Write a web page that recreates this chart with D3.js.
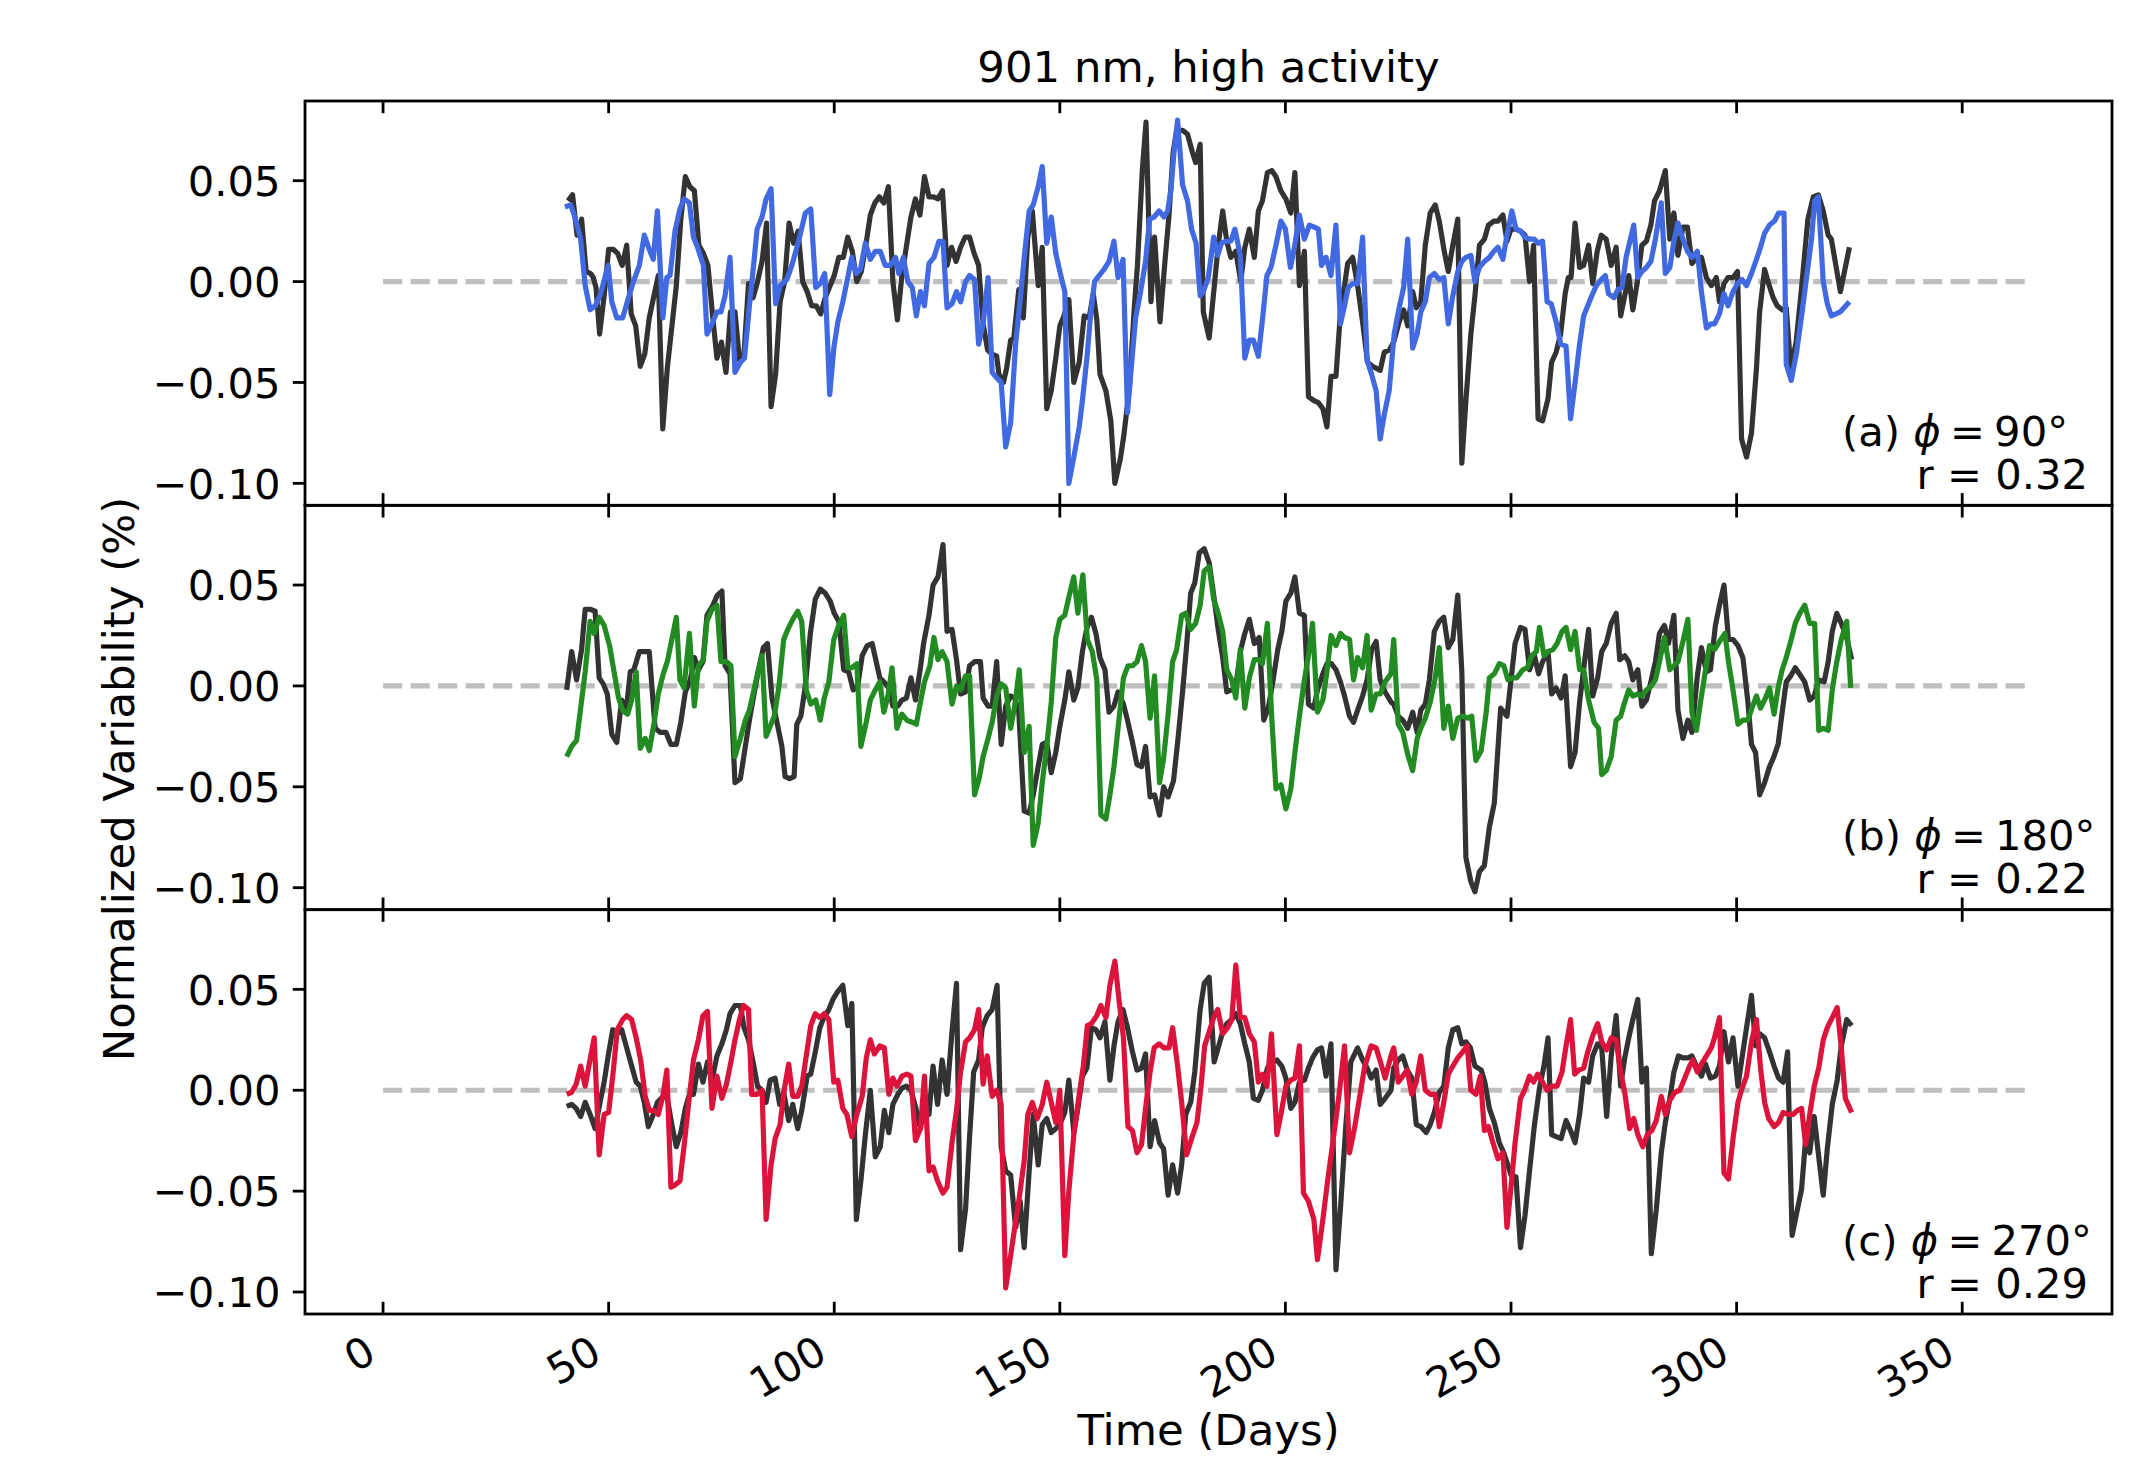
<!DOCTYPE html>
<html>
<head>
<meta charset="utf-8">
<script src="https://cdn.jsdelivr.net/npm/d3@7.9.0/dist/d3.min.js"></script>
<style>
  html, body { margin: 0; padding: 0; background: #fff; }
  svg { display: block; font-family: "DejaVu Sans", sans-serif; }
</style>
</head>
<body>
<div id="chart"></div>
<script>
/* ---------- data ---------- */
const xTicks = [0, 50, 100, 150, 200, 250, 300, 350];
const yTicks = [-0.10, -0.05, 0.00, 0.05];
const panelTags = ['(a)', '(b)', '(c)'];
const phases = ['90°', '180°', '270°'];
const rValues = ['0.32', '0.22', '0.29'];
const modelColors = ['#4169e1', '#228b22', '#dc143c'];
const zeroLine = [0, 365];

// panel (a): reference (black) and phi = 90 (blue)
const refA = [[41,0.040],[42,0.043],[43,0.023],[43.3,0.023],[44,0.031],[45,0.005],[46,0.004],[46.6,0.002],[47.2,-0.003],[48,-0.026],[49,-0.007],[50,0.016],[51,0.016],[52,0.014],[53,0.008],[54,0.018],[55,-0.016],[56,-0.022],[57,-0.042],[58,-0.036],[59,-0.018],[61,0.003],[62,-0.073],[63,-0.043],[65,-0.002],[66,0.031],[67,0.052],[68,0.047],[69,0.045],[70,0.018],[71,0.014],[72,0.008],[73,-0.016],[74,-0.038],[75,-0.030],[76,-0.045],[77,-0.015],[78,-0.015],[79,-0.039],[80,-0.036],[81,-0.001],[82,-0.008],[83,0.000],[84,0.010],[85,0.029],[86,-0.062],[87,-0.046],[88,-0.010],[89,0.000],[90,0.029],[91,0.019],[92,0.025],[93,0.000],[94,-0.005],[95,-0.012],[96,-0.012],[97,-0.016],[98,-0.008],[100,0.003],[101,0.012],[102,0.012],[103,0.022],[104,0.015],[105,0.000],[106,0.005],[107,0.018],[108,0.033],[109,0.039],[110,0.042],[111,0.039],[112,0.047],[113,0.000],[114,-0.019],[115,0.003],[117,0.032],[118,0.041],[119,0.033],[120,0.052],[121,0.042],[122,0.042],[123,0.041],[124,0.045],[125,0.008],[126,0.017],[127,0.010],[128,0.017],[129,0.022],[130,0.022],[131,0.014],[132,0.008],
  [133,-0.021],[134,-0.034],[135,-0.036],[136,-0.037],[136.5,-0.046],[137.5,-0.050],[138.2,-0.043],[139.1,-0.029],[139.8,-0.028],[140.9,-0.004],[141.9,-0.018],[142.9,0.022],[143.9,0.035],[145.2,-0.002],[146.1,0.017],[147.1,-0.063],[148.1,-0.054],[149.1,-0.038],[150,-0.022],[150.9,-0.017],[152,-0.009],[153.1,-0.050],[154.3,-0.040],[155.4,-0.017],[156.5,-0.018],[157.4,-0.006],[158.2,-0.019],[158.9,-0.046],[160.2,-0.054],[161.3,-0.069],[162.2,-0.100],[163.4,-0.088],[164.2,-0.076],[165.4,-0.053],[166.5,-0.013],[167.2,0.008],[168.3,0.056],[169.1,0.079],[170.2,-0.010],[171,0.022],[172.2,-0.020],[173.3,0.010],[174.2,0.033],[175.1,0.064],[175.9,0.075],[177.2,0.075],[178.3,0.073],[179.4,0.064],[180.1,0.059],[181.1,0.068],[181.8,-0.015],[183.1,-0.028],[184.2,-0.003],[185.1,0.018],[186.1,0.035],[187,0.020],[187.9,0.012],[189,0.015],[190.1,0.000],[191,0.017],[192,0.026],[193.1,0.012],[194,0.035],[194.9,0.040],[196,0.054],[197,0.055],[197.9,0.052],[199,0.045],[200.1,0.041],[201.2,0.034],[202.1,0.054],[203.1,-0.002],[204.2,0.015],[205.1,-0.057],[206.3,-0.059],[207.3,-0.060],[208.3,-0.063],[209.2,-0.072],[210.1,-0.047],[211.2,-0.047],[212.3,-0.012],[213.1,-0.002],[213.8,0.009],[214.9,0.012],[216,-0.002],[217.1,-0.020],[218.2,-0.040],[219.3,-0.042],[221,-0.044],[221.9,-0.035],[223,-0.034],
  [224,-0.030],[225.2,-0.020],[226.2,-0.014],[227.1,-0.022],[228.2,-0.005],[229,-0.013],[230,-0.010],[231,0.018],[232.1,0.034],[233.2,0.038],[234.1,0.030],[235.2,0.015],[236.1,0.005],[237.1,0.018],[238.2,0.031],[239.1,-0.090],[240,-0.059],[241.1,-0.026],[242,-0.007],[243,0.018],[244.1,0.021],[245,0.028],[246.2,0.030],[247.1,0.030],[248.2,0.033],[249.1,0.020],[250,0.026],[251.1,0.026],[252.1,0.025],[253.1,0.023],[254.1,0.000],[255,0.018],[256,-0.068],[257,-0.069],[258.2,-0.058],[259,-0.040],[260,-0.035],[261,-0.026],[262,-0.006],[262.7,0.002],[263.3,0.002],[264.2,0.029],[265.2,0.007],[266.1,0.008],[267.2,0.018],[268.1,-0.001],[269.1,0.015],[270,0.023],[271.1,0.021],[272.2,0.008],[273.3,0.017],[274.3,-0.017],[275.2,-0.007],[276.1,0.003],[277,-0.014],[278,0.000],[279,0.018],[280,0.020],[281,0.028],[281.8,0.040],[282.9,0.045],[284.2,0.055],[285.2,0.021],[286.1,0.034],[287,0.013],[288.1,0.027],[289.1,0.027],[290.1,0.009],[291.3,0.012],[292.2,0.012],[293.3,0.002],[294.4,-0.002],[295.5,0.002],[296.2,-0.010],[297.2,-0.001],[298.1,0.002],[299.2,0.002],[300.2,0.005],[301.1,-0.078],[302.2,-0.087],[303.3,-0.075],[304.4,-0.043],[305.1,-0.015],[306.2,0.006],[307.1,-0.001],[308.1,-0.008],[309,-0.012],[310.1,-0.014],[311,-0.013],[312,-0.043],[313.2,-0.030],[314.4,-0.003],[315.8,0.031],[317,0.042],[318.1,0.043],[319.2,0.035],[320.3,0.023],[321,0.021],[323,-0.005],[325,0.017]];
const phiA = [[40.3,0.037],[41.6,0.038],[42.5,0.032],[43.8,0.021],[44.8,-0.002],[45.9,-0.014],[47,-0.012],[48.1,-0.007],[49.9,0.008],[50.7,-0.010],[51.8,-0.018],[53.1,-0.018],[54.4,-0.008],[55.5,0.000],[56.8,0.008],[57.9,0.023],[59,0.016],[59.9,0.011],[60.8,0.035],[62,-0.018],[62.9,0.002],[63.6,0.003],[64.7,0.025],[65.8,0.036],[66.7,0.041],[67.9,0.039],[68.8,0.022],[69.7,0.017],[71,0.008],[71.8,-0.026],[72.9,-0.021],[74,-0.015],[74.9,-0.015],[75.8,-0.007],[76.9,0.012],[78,-0.045],[79.2,-0.040],[80.1,-0.038],[81.2,-0.012],[82.3,0.012],[82.9,0.026],[84,0.032],[84.9,0.041],[86,0.046],[87,-0.011],[88,-0.002],[89.5,0.001],[90.6,0.008],[92.1,0.020],[93.6,0.034],[94.8,0.036],[95.9,-0.003],[96.9,-0.001],[97.9,0.004],[99,-0.056],[99.9,-0.033],[100.8,-0.020],[101.9,-0.010],[103,0.002],[103.9,0.012],[104.9,0.004],[105.8,0.006],[106.9,0.019],[108,0.011],[109.1,0.015],[110.2,0.015],[111.3,0.008],[112.4,0.008],[113.6,0.012],[114.3,0.004],[115.3,0.012],[116.3,0.000],[117.3,-0.003],[118.2,-0.017],[119.1,-0.005],[120,-0.012],[121,0.009],[122.1,0.012],[123.2,0.020],[124.1,0.020],[125,-0.013],[126.1,-0.011],[127.1,-0.005],[128,-0.010],[129.1,0.000],[130,0.003],[131.1,0.001],[132,-0.031],
  [133,-0.021],[134.1,0.002],[135,-0.045],[136.1,-0.048],[137,-0.050],[138,-0.082],[139.1,-0.070],[140.2,-0.031],[141.3,-0.007],[142.2,0.014],[143.2,0.035],[144.1,0.038],[145.2,0.047],[146.1,0.057],[147.1,0.019],[148.1,0.032],[149.1,0.014],[150,0.005],[151.1,-0.005],[152,-0.100],[153.1,-0.087],[154.3,-0.072],[155,-0.059],[156,-0.038],[156.8,-0.017],[157.7,0.000],[158.7,0.003],[159.8,0.006],[160.9,0.010],[162,0.020],[162.9,0.002],[164,0.011],[165,-0.065],[165.9,-0.041],[166.8,-0.018],[167.9,-0.005],[169,0.010],[169.9,0.031],[170.9,0.032],[172,0.035],[173.1,0.032],[173.9,0.035],[174.6,0.045],[175.3,0.064],[176.1,0.080],[177.2,0.048],[178.3,0.040],[179.2,0.026],[180.2,0.019],[181.1,-0.007],[181.8,-0.005],[182.9,0.002],[184.1,0.022],[185,0.013],[185.8,0.019],[186.8,0.020],[187.9,0.020],[188.8,0.026],[190,0.013],[191,-0.038],[192,-0.029],[192.9,-0.029],[194,-0.037],[194.9,-0.019],[195.9,0.003],[196.8,0.007],[197.9,0.018],[199,0.030],[200,0.026],[201.1,0.007],[202,0.017],[203.1,0.033],[204.2,0.021],[205.3,0.028],[206.4,0.027],[207.3,0.026],[208,0.008],[209,0.012],[210.1,0.003],[211.2,0.028],[212.2,-0.021],[213.1,-0.012],[213.9,-0.003],[214.9,-0.001],[216,-0.001],[217.1,0.022],[218.1,-0.039],[219.1,-0.046],[220.1,-0.054],[221,-0.078],[221.9,-0.066],[223,-0.054],
  [224.1,-0.026],[225.2,-0.013],[226.2,-0.003],[227.1,0.021],[228.2,-0.033],[229.2,-0.026],[230,-0.015],[231,-0.010],[231.9,0.002],[233,0.004],[234.1,0.001],[235.1,0.002],[236.1,-0.021],[237.1,-0.007],[238.2,0.005],[239.1,0.010],[240,0.012],[241.1,0.013],[242,0.000],[243,0.007],[244.1,0.010],[245.2,0.012],[246.2,0.015],[247.1,0.017],[248.2,0.011],[249.1,0.023],[250.2,0.035],[251.1,0.026],[252.1,0.025],[253.1,0.022],[254.1,0.021],[255.2,0.021],[256,0.019],[257,0.020],[258,-0.010],[258.9,-0.011],[260,-0.020],[261,-0.031],[262.2,-0.032],[263.2,-0.068],[264.2,-0.050],[265.2,-0.031],[266.1,-0.017],[267,-0.012],[267.9,-0.007],[268.9,-0.002],[270,0.001],[270.9,0.003],[271.6,-0.006],[272.8,-0.008],[273.7,-0.004],[274.6,-0.003],[275.5,0.012],[277.2,0.028],[278.1,0.002],[279,0.005],[280,0.007],[281,0.010],[282,0.021],[283.3,0.039],[284.2,0.004],[285.2,0.007],[286.1,0.020],[287,0.029],[288.1,0.021],[289.1,0.015],[290.1,0.012],[291.3,0.015],[292.2,-0.005],[293.3,-0.023],[294.3,-0.021],[295.1,-0.021],[296.2,-0.016],[297.2,-0.006],[298.1,-0.012],[299.2,-0.005],[300.2,-0.001],[301.2,0.001],[302.2,-0.002],[303.3,0.004],[304.4,0.011],[305.3,0.017],[306.2,0.024],[307.3,0.028],[308.4,0.030],[309.3,0.034],[310.5,0.034],[311,-0.041],[312.1,-0.049],[313.3,-0.035],[314.4,-0.017],[315.5,0.002],[316.6,0.021],[317.3,0.040],[318.1,0.042],[319.2,0.000],[320.1,-0.011],[321,-0.017],[323,-0.015],[325,-0.010]];

// panel (b): reference (black) and phi = 180 (green)
const refB = [[40.7,-0.002],[41.8,0.017],[42.9,0.003],[44,0.018],[44.8,0.038],[45.9,0.038],[47,0.037],[47.9,0.004],[48.8,0.001],[49.7,-0.004],[50.7,-0.024],[51.8,-0.028],[52.9,-0.007],[53.9,-0.012],[54.8,0.007],[55.6,0.008],[56.8,0.017],[58.1,0.017],[59,0.017],[60.3,-0.021],[61.4,-0.023],[62.7,-0.023],[63.8,-0.029],[65,-0.029],[66,-0.018],[67,-0.003],[68.1,0.003],[69,0.014],[69.9,0.008],[70.9,0.012],[71.8,0.035],[73.1,0.040],[74.1,0.045],[75.1,0.047],[75.8,0.010],[76.9,0.006],[78,-0.048],[79.2,-0.046],[80.3,-0.030],[81.2,-0.017],[82.3,-0.003],[83.4,0.010],[84.3,0.019],[85.2,0.021],[86.2,-0.006],[87.3,-0.018],[88.4,-0.030],[89.1,-0.045],[90.1,-0.046],[91.1,-0.045],[91.7,-0.019],[92.6,-0.015],[93.6,0.000],[94.7,0.026],[95.8,0.043],[96.9,0.048],[98,0.046],[99.1,0.042],[100,0.036],[101,0.032],[102.1,0.008],[103.2,0.007],[104.2,-0.002],[105.2,0.000],[106.2,0.015],[107.3,0.020],[108.4,0.021],[109.3,0.012],[110.1,0.004],[111,0.002],[112.1,-0.001],[113,-0.010],[114.1,-0.010],[115,-0.007],[116,-0.006],[117,0.004],[118,-0.007],[119.1,0.009],[119.8,0.021],[121,0.035],[121.9,0.050],[123,0.054],[124.1,0.070],[125,0.027],[126.1,0.028],[127.1,0.013],[128,-0.004],[129.1,-0.003],[130,0.010],[131.1,0.012],[132.4,0.012],
  [133,-0.006],[134.1,-0.010],[135,-0.010],[136,0.012],[137,-0.029],[138,-0.010],[139.1,-0.005],[140,-0.006],[140.9,-0.013],[142.1,-0.062],[143.2,-0.063],[144.1,-0.054],[145.2,-0.040],[146.1,-0.029],[147.1,-0.028],[148.1,-0.043],[149.1,-0.033],[150,-0.020],[151.1,-0.007],[152,0.007],[153.1,-0.007],[154,-0.001],[155,0.017],[156,0.029],[157,0.034],[158,0.026],[158.9,0.014],[160,0.008],[160.9,-0.013],[162,-0.010],[162.9,-0.003],[164.1,-0.009],[165.1,-0.018],[166.1,-0.028],[167.1,-0.039],[168.1,-0.040],[169,-0.030],[170,-0.055],[171,-0.054],[172.1,-0.064],[173,-0.050],[174,-0.055],[175.2,-0.047],[176.2,-0.026],[177.2,-0.003],[178.1,0.020],[179,0.046],[179.9,0.051],[180.9,0.066],[182,0.068],[183.1,0.061],[184.1,0.045],[185.1,0.028],[186.1,0.014],[187,-0.003],[188.1,-0.002],[189,0.000],[190.1,0.018],[191,0.026],[192,0.033],[193.1,0.021],[194.2,0.024],[195.2,-0.017],[196.2,-0.011],[197.2,0.002],[198.3,0.018],[199.2,0.027],[200.1,0.042],[201.2,0.046],[202.1,0.054],[203.1,0.036],[204.2,0.035],[205.1,-0.009],[206.3,-0.011],[207.1,-0.002],[208.3,0.006],[209.2,0.011],[210.2,0.011],[211.2,0.008],[212.2,0.002],[213.1,-0.005],[214.2,-0.015],[215.1,-0.018],[216,-0.012],[217.1,-0.005],[218.1,0.003],[219.1,0.018],[220.1,0.022],[221,0.003],[222.1,-0.003],[223.4,-0.008],
  [224,-0.009],[225,-0.015],[226,-0.017],[227.1,-0.021],[228.2,-0.013],[229.2,-0.023],[230,-0.012],[231,-0.009],[231.9,0.003],[233,0.027],[234.1,0.032],[235.1,0.034],[236.1,0.019],[237.1,0.023],[238.2,0.045],[239.1,0.007],[240,-0.085],[241.1,-0.097],[242,-0.102],[243,-0.092],[244.1,-0.089],[245.2,-0.070],[246.3,-0.058],[247.7,-0.011],[249.1,-0.015],[250,0.003],[250.9,0.021],[252.1,0.029],[253.1,0.028],[254.1,0.008],[255.2,0.015],[256.1,0.006],[257,0.012],[258.2,0.017],[259,-0.004],[260,-0.001],[261.1,-0.006],[262,0.005],[263.2,-0.040],[264.2,-0.033],[265.2,-0.008],[266.3,0.012],[267.2,0.028],[268.1,-0.005],[269.2,0.004],[270.1,0.017],[271.1,0.021],[272.2,0.031],[273.3,0.036],[274.1,0.013],[275.2,0.015],[276.1,0.012],[277,0.003],[278.1,0.008],[279,-0.010],[280,-0.007],[281.1,0.003],[282,0.012],[282.9,0.026],[284,0.030],[284.9,0.021],[286.1,0.035],[287,-0.012],[288.1,-0.026],[289.2,-0.017],[290.1,-0.023],[291.3,0.005],[292.2,0.019],[293.3,0.007],[294.2,0.008],[295.3,0.030],[296.2,0.040],[297.2,0.050],[298.2,0.023],[299.2,0.023],[300.3,0.020],[301.4,0.014],[302.5,-0.008],[303.3,-0.029],[304.2,-0.033],[305.1,-0.054],[306.2,-0.048],[307.3,-0.040],[308.1,-0.036],[309.2,-0.029],[310.1,-0.013],[311,0.002],[312,0.005],[313,0.009],[314.2,0.005],[315.1,0.002],[316.2,-0.007],[317.2,-0.005],[318.2,0.003],[319.4,0.002],[320.3,0.012],[321.2,0.027],[322.2,0.036],[323.2,0.031],[324.4,0.024],[325.5,0.013]];
const phiB = [[40.7,-0.035],[41.8,-0.030],[42.9,-0.027],[43.8,-0.011],[44.8,0.007],[45.9,0.032],[46.8,0.026],[47.9,0.034],[49,0.030],[50.2,0.020],[51.2,0.007],[52.2,-0.006],[53.1,-0.012],[54.2,-0.014],[55.1,-0.007],[56.1,0.007],[57,-0.031],[58.1,-0.026],[59,-0.032],[60.1,-0.018],[61,-0.004],[62.1,0.006],[63,0.012],[64,0.023],[65,0.034],[65.8,0.003],[66.7,-0.001],[67.9,0.026],[69,-0.010],[69.9,0.010],[71,0.013],[71.8,0.032],[72.9,0.038],[74,0.040],[74.9,0.012],[76.1,0.012],[77.1,0.010],[78,-0.035],[79.2,-0.026],[80.3,-0.017],[81.2,-0.012],[82.3,-0.001],[83.2,0.008],[84,0.015],[84.9,-0.025],[85.8,-0.020],[86.7,-0.015],[87.7,-0.001],[88.8,0.023],[89.7,0.028],[90.8,0.033],[91.9,0.037],[92.8,0.032],[93.8,-0.002],[94.8,-0.009],[95.9,-0.007],[96.9,-0.017],[97.8,-0.006],[98.8,0.002],[99.9,0.023],[101,0.030],[102.1,0.035],[103,0.009],[103.9,0.009],[105,0.011],[105.9,-0.030],[107.1,-0.018],[108,-0.007],[109.1,-0.002],[110.1,0.002],[111,-0.013],[111.9,-0.005],[112.8,0.009],[113.9,-0.021],[115,-0.014],[116.1,-0.017],[117.3,-0.018],[118.2,-0.019],[119.1,-0.008],[120,0.002],[121.2,0.010],[122.1,0.024],[123,0.013],[123.9,0.017],[125,0.012],[126.1,-0.009],[127.1,0.000],[128,-0.002],[129.1,0.005],[130,0.005],[131.1,-0.054],[132.1,-0.046],
  [133,-0.035],[134.1,-0.026],[135,-0.018],[136,-0.005],[137,0.001],[138,-0.001],[139.1,-0.021],[140,-0.010],[141,0.008],[142.1,-0.033],[143.2,-0.020],[144.1,-0.079],[145.2,-0.068],[146.1,-0.048],[147.1,-0.030],[148.1,-0.008],[149.1,0.024],[150,0.033],[151.1,0.035],[152,0.044],[153.1,0.054],[154,0.036],[155.1,0.055],[156.1,0.023],[157.2,0.017],[158.2,0.003],[159.1,-0.064],[160.2,-0.066],[161.1,-0.054],[162,-0.040],[162.9,-0.021],[164.1,0.004],[165.1,0.010],[166.1,0.010],[167.1,0.012],[168.1,0.020],[169,0.012],[170,-0.016],[171,0.005],[172.1,-0.048],[173,-0.036],[174,-0.014],[175,0.012],[175.9,0.018],[177,0.035],[177.9,0.036],[179,0.028],[180.1,0.031],[181.1,0.040],[182,0.057],[183.1,0.059],[184.1,0.043],[185.1,0.036],[186.1,0.027],[187,0.008],[188.1,0.003],[189,-0.006],[190,0.018],[191,-0.011],[192,0.004],[193.1,0.013],[194,0.013],[194.9,0.011],[196,0.031],[196.9,-0.013],[197.9,-0.051],[199,-0.049],[200.1,-0.061],[201.2,-0.051],[202.1,-0.033],[203.1,-0.015],[204.2,0.003],[205.1,0.015],[206,0.031],[207.1,-0.013],[208.3,-0.007],[209.2,0.007],[210.1,0.025],[211.2,0.020],[212.2,0.026],[213.1,0.024],[214.2,0.023],[215.1,0.003],[216,0.014],[217.1,0.009],[218.1,0.025],[219,-0.012],[220.1,-0.004],[221,-0.004],[222.1,0.002],[223.4,0.006],
  [224,0.023],[225,-0.019],[226,-0.023],[227.1,-0.034],[228.2,-0.042],[229.2,-0.026],[230,-0.021],[231,-0.016],[232.1,-0.008],[233.2,0.004],[234.1,0.019],[235.1,-0.021],[236.1,-0.010],[237.1,-0.026],[238.2,-0.016],[239.3,-0.015],[240.4,-0.016],[241.3,-0.015],[242.2,-0.037],[243.4,-0.032],[244.5,-0.013],[245.2,0.004],[246.3,0.006],[247.4,0.011],[248.4,0.010],[249.3,0.003],[250.4,0.004],[251.3,0.004],[252.6,0.008],[253.6,0.009],[254.6,0.015],[255.6,0.017],[256.3,0.029],[257.3,0.015],[258.2,0.017],[259.3,0.018],[260.2,0.021],[261.3,0.027],[262.2,0.029],[263.2,0.018],[264.2,0.027],[265.2,0.008],[266.1,0.008],[267.2,-0.007],[268.4,-0.018],[269.4,-0.021],[270.1,-0.044],[271.1,-0.042],[272.2,-0.035],[273.3,-0.017],[274.3,-0.015],[275.2,-0.008],[276.1,-0.002],[277,-0.005],[278.1,-0.004],[279,-0.005],[280,-0.002],[281.1,0.000],[282,0.003],[282.9,0.012],[284,0.024],[285.2,0.008],[286.1,0.010],[287,0.012],[288.1,0.022],[289.2,0.033],[290.1,-0.013],[291.1,-0.022],[292,-0.008],[292.9,0.005],[294,0.020],[295.1,0.018],[296.2,0.022],[297.4,0.026],[298.2,0.012],[299.2,-0.002],[300.3,-0.019],[301.4,-0.017],[302.5,-0.017],[303.4,-0.011],[304.4,-0.005],[305.3,-0.011],[306.4,-0.006],[307.3,-0.001],[308.3,-0.014],[309.2,-0.001],[310.1,0.008],[311,0.014],[312.1,0.023],[313,0.031],[314,0.036],[315.1,0.040],[316.2,0.031],[317.3,0.031],[318.2,-0.022],[319.2,-0.021],[320.3,-0.022],[321.2,-0.002],[322.2,0.012],[323.2,0.023],[324.4,0.032],[325.3,-0.001]];

// panel (c): reference (black) and phi = 270 (red)
const refC = [[40.7,-0.008],[41.8,-0.007],[42.8,-0.009],[43.8,-0.013],[44.8,-0.006],[45.9,-0.012],[47,-0.019],[48.1,-0.006],[49,0.004],[49.9,0.017],[50.9,0.030],[51.8,0.028],[52.9,0.030],[54,0.021],[55.1,0.012],[56.1,0.004],[57,0.002],[57.9,-0.006],[58.8,-0.018],[59.9,-0.012],[60.8,-0.006],[62.1,-0.003],[63,-0.004],[64,-0.017],[65,-0.028],[66,-0.021],[67,-0.009],[67.9,-0.002],[68.8,-0.002],[69.9,0.013],[70.9,0.004],[71.9,0.014],[72.9,0.005],[74,0.017],[75.1,0.023],[76.1,0.030],[76.9,0.038],[78,0.042],[79.2,0.042],[80,0.031],[81,0.025],[82.1,0.013],[83,0.002],[84,0.000],[84.9,-0.006],[85.8,0.005],[86.9,0.006],[87.9,-0.007],[88.8,-0.001],[89.9,-0.015],[90.8,-0.007],[91.9,-0.019],[92.8,-0.010],[94,0.007],[94.8,0.008],[95.8,0.019],[96.8,0.031],[97.7,0.036],[98.8,0.040],[99.7,0.045],[100.8,0.049],[101.9,0.052],[103,0.032],[103.9,0.043],[104.9,-0.064],[105.9,-0.045],[106.9,-0.022],[108,0.000],[109.1,-0.033],[110.2,-0.028],[111.1,-0.010],[112.1,-0.021],[113,-0.007],[114.1,-0.002],[115,0.001],[116,0.002],[117,0.000],[118,-0.008],[119.1,-0.019],[120,-0.007],[121,-0.012],[121.9,0.012],[122.9,-0.007],[123.9,0.015],[125,-0.002],[126.1,0.029],[127.1,0.053],[128,-0.079],[129.1,-0.059],[130,-0.023],[130.9,0.009],[132,0.015],
  [132.8,0.031],[133.9,0.037],[135,0.040],[136.1,0.052],[137,-0.028],[138,-0.040],[139.1,-0.042],[140.2,-0.068],[141.2,-0.055],[142.1,-0.078],[143.2,-0.040],[144.1,-0.012],[145.2,-0.037],[146.1,-0.017],[147.1,-0.014],[148.1,-0.021],[149.1,-0.019],[150,-0.017],[151.1,-0.011],[152,0.005],[153.1,-0.021],[154,-0.009],[155,0.007],[156,0.011],[157,0.031],[158,0.030],[158.9,0.026],[160,0.034],[161.1,0.005],[162,0.022],[162.9,0.034],[164,0.040],[165,0.031],[166.1,0.019],[167.1,0.010],[168.1,0.011],[169,0.018],[170,-0.028],[171,-0.015],[172.1,-0.026],[173,-0.029],[174,-0.052],[175,-0.037],[176.1,-0.051],[177,-0.037],[177.9,-0.012],[179,-0.006],[179.9,0.009],[181.1,0.040],[182,0.053],[183.1,0.056],[184.2,0.014],[185.1,0.021],[186.1,0.029],[187,0.033],[188.1,0.035],[189,0.038],[190,0.033],[191,0.023],[192,0.014],[192.9,-0.004],[194,-0.005],[194.9,0.000],[196,0.011],[197.2,0.014],[198.1,0.015],[199.2,0.012],[200.1,0.006],[201.2,-0.009],[202.1,-0.006],[203.1,0.004],[204.2,0.005],[205.1,0.011],[206,0.016],[207.1,0.020],[208,0.021],[209,0.007],[210.1,0.023],[211.2,-0.089],[212.3,-0.055],[213.4,-0.017],[214.5,0.014],[216,0.021],[217.1,0.015],[218.1,0.011],[219,0.006],[220.1,0.010],[221,-0.007],[222.1,-0.004],[223.4,0.000],
  [224,0.011],[225,0.015],[226,0.017],[227,0.010],[228,0.006],[229,-0.017],[230,-0.018],[231.2,-0.021],[232.1,-0.017],[233,-0.011],[234.1,-0.001],[235.1,0.002],[236.1,0.021],[237.1,0.030],[238.2,0.031],[239.1,0.023],[240,0.024],[241,0.021],[242,0.012],[243.4,0.010],[244.2,0.004],[245.2,-0.009],[246.3,-0.016],[247.4,-0.026],[248.4,-0.031],[250,-0.042],[251.1,-0.043],[252.1,-0.078],[253.1,-0.062],[254.1,-0.040],[255.2,-0.017],[256.3,0.001],[257.3,0.012],[258.2,0.026],[259,-0.022],[260,-0.023],[261.1,-0.024],[262.2,-0.015],[263.2,-0.020],[264.2,-0.026],[265.2,-0.012],[266.1,0.006],[267.2,0.004],[268.1,0.017],[269.2,0.023],[270.1,0.021],[271.2,-0.013],[272.2,0.017],[273.3,0.037],[274.3,0.002],[275.2,0.016],[276.1,0.026],[277,0.035],[278.1,0.045],[279,0.004],[280,0.011],[281.1,-0.081],[282.2,-0.059],[283.3,-0.031],[284.2,-0.016],[285.2,-0.004],[286.1,0.009],[287.1,0.017],[288.1,0.016],[289.2,0.016],[290.1,0.017],[291.1,0.012],[292.2,0.007],[293.1,0.013],[294.2,0.006],[295.3,0.007],[296.2,0.012],[297.2,0.029],[298.2,0.014],[299.2,0.026],[300.3,0.002],[301.2,0.016],[302.2,0.031],[303.3,0.047],[304.2,0.022],[305.1,0.028],[306.2,0.026],[307.3,0.019],[308.3,0.012],[309.3,0.006],[310.3,0.004],[311.3,0.019],[312.3,-0.072],[313.3,-0.061],[314.4,-0.049],[315.3,-0.024],[316.2,-0.031],[317.2,-0.013],[318.2,-0.033],[319.2,-0.052],[320.1,-0.029],[321.2,-0.007],[322.3,0.005],[323.2,0.022],[324.4,0.035],[325.5,0.032]];
const phiC = [[40.7,-0.002],[41.8,-0.001],[42.8,0.003],[43.8,0.012],[44.8,0.002],[45.7,0.013],[46.8,0.026],[47.9,-0.032],[49,-0.012],[50,-0.011],[51.1,0.011],[51.9,0.030],[53.1,0.035],[54,0.037],[55.1,0.035],[56.1,0.026],[57.1,0.015],[58.1,-0.003],[59,-0.010],[60.1,-0.010],[61,-0.012],[62,-0.003],[62.9,0.010],[63.8,-0.048],[64.7,-0.047],[65.8,-0.045],[66.8,-0.026],[67.9,-0.003],[68.8,0.015],[69.9,0.025],[70.9,0.037],[71.9,0.039],[72.9,-0.009],[74,0.007],[75.1,-0.004],[76.1,0.003],[77.1,0.014],[78,0.025],[79,0.035],[79.9,0.042],[81,0.040],[81.7,-0.002],[82.9,-0.002],[84,0.000],[84.9,-0.064],[86,-0.037],[86.9,-0.024],[88,-0.017],[88.9,0.000],[89.9,0.013],[90.8,-0.003],[91.9,-0.003],[92.8,0.002],[93.8,0.017],[94.8,0.032],[95.8,0.038],[96.8,0.036],[97.8,0.038],[98.8,0.035],[99.9,0.004],[100.8,0.005],[101.9,-0.009],[102.8,-0.012],[103.9,-0.023],[105,-0.012],[106.2,-0.003],[107.1,0.016],[108,0.025],[108.9,0.018],[110.1,0.022],[111.1,0.021],[112.1,-0.002],[113,0.006],[113.9,0.002],[115,0.007],[116.1,0.008],[117,0.007],[118,-0.025],[119.1,-0.019],[120,0.007],[121,-0.040],[121.9,-0.038],[122.9,-0.045],[124.1,-0.051],[125,-0.048],[126.1,-0.026],[127.1,-0.010],[128,0.009],[129.1,0.024],[130,0.026],[131.1,0.030],[132,0.040],
  [133,0.003],[133.9,0.017],[135,-0.003],[136,0.000],[137,-0.007],[138,-0.098],[139.1,-0.082],[140,-0.068],[140.9,-0.055],[142.1,-0.035],[142.9,-0.012],[143.9,-0.006],[145,-0.014],[146.1,-0.007],[147.1,0.004],[148.1,-0.006],[149.1,-0.016],[150,0.000],[151.1,-0.082],[152,-0.050],[153.1,-0.022],[154.3,-0.002],[155.2,0.012],[156.1,0.032],[157,0.033],[158.2,0.037],[159.1,0.042],[160.2,0.036],[161.1,0.052],[162.2,0.064],[163.1,0.045],[164.1,0.026],[165.1,-0.018],[166.1,-0.020],[167.1,-0.031],[168.1,-0.027],[169,-0.009],[170,0.009],[170.9,0.021],[172,0.023],[173.1,0.021],[174.2,0.021],[175,0.031],[176.1,0.012],[177,-0.006],[178.1,-0.032],[179.2,-0.024],[180.4,-0.016],[181.3,0.002],[182.1,0.022],[183.1,0.029],[184.1,0.036],[185,0.040],[186.1,0.028],[187.2,0.031],[188.1,0.035],[189,0.062],[190,0.036],[191,0.036],[192,0.028],[193.1,0.024],[194,0.004],[194.9,0.008],[195.9,0.002],[196.9,0.028],[198.1,-0.022],[199,-0.012],[200.1,0.002],[201.2,0.005],[202.1,0.006],[203.1,0.022],[204,-0.051],[205.1,-0.055],[206.3,-0.064],[207.1,-0.084],[208.3,-0.064],[209.4,-0.044],[210.5,-0.026],[211.9,-0.002],[213.1,0.022],[214.2,-0.031],[215.3,-0.019],[216.4,-0.004],[217.5,0.011],[219,0.022],[220.1,0.021],[221.2,0.013],[222.1,0.006],[223.4,0.017],
  [224,0.021],[225,0.004],[226,0.007],[227,0.010],[228,-0.002],[229,0.004],[230,0.017],[231,0.000],[232.1,-0.002],[233.2,-0.002],[234.1,-0.018],[235.1,-0.006],[236.1,0.008],[237.1,0.012],[238.2,0.016],[239.3,0.019],[240.3,0.022],[241.1,0.000],[242.2,-0.002],[243.2,0.007],[244.1,-0.020],[245,-0.018],[246,-0.026],[247.1,-0.034],[248.2,-0.031],[249.1,-0.068],[250,-0.048],[250.9,-0.026],[252.1,-0.004],[253,0.000],[254.1,0.007],[255,0.004],[255.9,0.008],[257,0.004],[258,0.000],[259,0.002],[260.2,0.002],[261.3,0.009],[262.2,0.022],[263.2,0.035],[264.1,0.008],[265,0.010],[266.1,0.011],[267,0.019],[268.1,0.027],[269.2,0.033],[270.1,0.024],[271.2,0.020],[272.2,0.026],[273.3,0.025],[274.3,0.009],[275.2,-0.001],[276.3,-0.019],[277.2,-0.014],[278.1,-0.022],[279.2,-0.028],[280.2,-0.022],[281.2,-0.020],[282.2,-0.015],[283.3,-0.003],[284.2,-0.012],[285.2,-0.005],[286.3,-0.001],[287.4,0.000],[288.5,0.006],[289.6,0.012],[290.3,0.015],[291.3,0.009],[292.2,0.013],[293.3,0.017],[294.4,0.021],[295.1,0.026],[296.2,0.036],[297.2,-0.041],[298.2,-0.044],[299.2,-0.024],[300.3,-0.006],[301.2,0.001],[302.2,0.007],[303.3,0.024],[304.4,0.035],[305.3,0.011],[306.2,-0.006],[307.1,-0.014],[308.3,-0.018],[309.3,-0.016],[310.3,-0.011],[311.4,-0.012],[312.5,-0.012],[313.5,-0.010],[314.4,-0.009],[315.3,-0.027],[316.2,-0.012],[317.2,0.002],[318.2,0.011],[319.2,0.025],[320.1,0.031],[321.2,0.036],[322.3,0.041],[323.2,0.021],[324.1,-0.004],[325.5,-0.011]];

const refSeries = [refA, refB, refC];
const modelSeries = [phiA, phiB, phiC];

/* ---------- layout ---------- */
const W = 2139, H = 1457;
const L = 305, R = 2112, T = 101, B = 1314;
const PH = (B - T) / 3;
const FS = 41.7;      // tick labels and annotations
const FSL = 43.4;     // title and axis labels
const TICK = 12.2, PAD = 12.2;
const LW = 5.2, SPINE = 2.8;

const svg = d3.select('#chart').append('svg')
  .attr('width', W).attr('height', H)
  .attr('viewBox', `0 0 ${W} ${H}`);
svg.append('rect').attr('width', W).attr('height', H).attr('fill', '#fff');

const x = d3.scaleLinear().domain([-17.3, 383.2]).range([L, R]);
const fmtY = d => (d < 0 ? '\u2212' : '') + Math.abs(d).toFixed(2);

const line = (ys) => d3.line().x(d => x(d[0])).y(d => ys(d[1]));

for (let i = 0; i < 3; i++) {
  const top = T + i * PH, bot = top + PH;
  const y = d3.scaleLinear().domain([-0.1109, 0.0895]).range([bot, top]);
  const g = svg.append('g');

  g.append('clipPath').attr('id', 'clip' + i)
    .append('rect').attr('x', L).attr('y', top).attr('width', R - L).attr('height', PH);

  const plot = g.append('g').attr('clip-path', `url(#clip${i})`);

  // zero reference
  plot.append('path')
    .attr('d', line(y)(zeroLine.map(t => [t, 0])))
    .attr('fill', 'none').attr('stroke', '#bfbfbf')
    .attr('stroke-width', LW).attr('stroke-dasharray', '19.2,8.3');

  plot.append('path')
    .attr('d', line(y)(refSeries[i]))
    .attr('fill', 'none').attr('stroke', '#333333')
    .attr('stroke-width', LW).attr('stroke-linejoin', 'round');

  plot.append('path')
    .attr('d', line(y)(modelSeries[i]))
    .attr('fill', 'none').attr('stroke', modelColors[i])
    .attr('stroke-width', LW).attr('stroke-linejoin', 'round');

  // y ticks (outward, left)
  yTicks.forEach(v => {
    g.append('line').attr('x1', L - TICK).attr('x2', L)
      .attr('y1', y(v)).attr('y2', y(v))
      .attr('stroke', '#000').attr('stroke-width', SPINE);
    g.append('text').attr('x', L - TICK - PAD).attr('y', y(v))
      .attr('dy', FS * 0.3645).attr('text-anchor', 'end')
      .attr('font-size', FS).text(fmtY(v));
  });

  // x ticks (inward, top and bottom)
  xTicks.forEach(t => {
    g.append('line').attr('x1', x(t)).attr('x2', x(t))
      .attr('y1', top).attr('y2', top + TICK)
      .attr('stroke', '#000').attr('stroke-width', SPINE);
    g.append('line').attr('x1', x(t)).attr('x2', x(t))
      .attr('y1', bot - TICK).attr('y2', bot)
      .attr('stroke', '#000').attr('stroke-width', SPINE);
  });

  g.append('rect').attr('x', L).attr('y', top).attr('width', R - L).attr('height', PH)
    .attr('fill', 'none').attr('stroke', '#000').attr('stroke-width', SPINE);

  // annotation: "(x) phi = NN°" over "r = 0.NN"
  const t1 = g.append('text').attr('x', 1842).attr('y', bot - 16.5 - 43).attr('font-size', FS);
  t1.append('tspan').text(panelTags[i] + ' ');
  t1.append('tspan').attr('font-style', 'italic').text('\u03d5');
  t1.append('tspan').attr('dx', FS * 0.22).text('=');
  t1.append('tspan').attr('dx', FS * 0.22).text(phases[i]);
  g.append('text').attr('x', 2088).attr('y', bot - 16.5).attr('text-anchor', 'end')
    .attr('font-size', FS).text('r = ' + rValues[i]);
}

// rotated x tick labels under the last panel
const labTop = B + PAD, ang = Math.PI / 6;
xTicks.forEach(t => {
  const txt = svg.append('text').attr('font-size', FS).attr('text-anchor', 'middle').text(t);
  const w = txt.node().getComputedTextLength();
  const h = FS * 1.164;
  const bw = w * Math.cos(ang) + h * Math.sin(ang);
  const bh = w * Math.sin(ang) + h * Math.cos(ang);
  txt.attr('transform', `translate(${x(t) - bw / 2},${labTop + bh / 2}) rotate(-30)`)
    .attr('y', FS * 0.346);
});

svg.append('text').attr('x', (L + R) / 2).attr('y', 82)
  .attr('text-anchor', 'middle').attr('font-size', FSL).text('901 nm, high activity');

svg.append('text').attr('x', (L + R) / 2).attr('y', 1445)
  .attr('text-anchor', 'middle').attr('font-size', FSL).text('Time (Days)');

svg.append('text').attr('transform', 'translate(134,779) rotate(-90)')
  .attr('text-anchor', 'middle').attr('font-size', FSL).text('Normalized Variability (%)');
</script>
</body>
</html>
